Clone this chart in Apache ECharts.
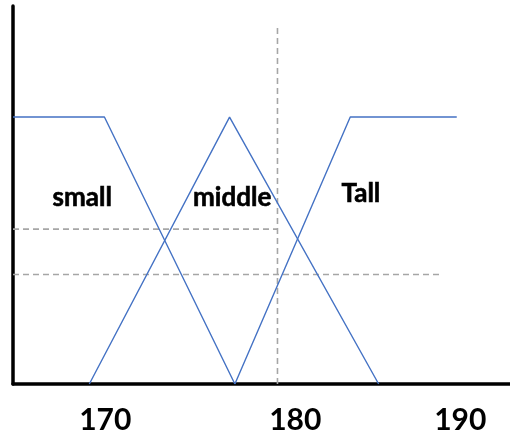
<!DOCTYPE html>
<html>
<head>
<meta charset="utf-8">
<script src="https://cdn.jsdelivr.net/npm/echarts@6/dist/echarts.min.js"></script>
<style>html,body{margin:0;padding:0;background:#fff;}#c{width:510px;height:437px;}</style>
</head>
<body>
<div id="c"></div>
<script>
// Membership functions (x = height in cm, y = membership degree)
var smallX = [164.8, 169.95, 177.3];
var smallY = [1, 1, 0];
var middleX = [169.1, 177.0, 185.4];
var middleY = [0, 1, 0];
var tallX = [177.3, 183.8, 189.8];
var tallY = [0, 1, 1];
// Dashed guide lines
var guideVX = [179.7, 179.7];
var guideVY = [0, 1.345];
var guideH1X = [164.8, 179.7];
var guideH1Y = [0.58, 0.58];
var guideH2X = [164.8, 189.0];
var guideH2Y = [0.41, 0.41];
// Tick labels
var tickValues = [170, 180, 190];
// Annotation labels
var labelNames = ['small', 'middle', 'Tall'];
var labelX = [168.7, 177.15, 184.4];
var labelY = [0.70, 0.70, 0.715];

function pts(xs, ys) { return xs.map(function (x, i) { return [x, ys[i]]; }); }

var blue = '#4472C4';
var gray = '#A6A6A6';
var dashed = { color: gray, width: 1.6, type: [6, 4] };

var chart = echarts.init(document.getElementById('c'), null, { renderer: 'canvas' });
chart.setOption({
  animation: false,
  grid: { left: 13, right: 0, top: 6, bottom: 53, containLabel: false },
  xAxis: {
    type: 'value', min: 164.8, max: 192.8,
    axisLine: { show: true, onZero: false, lineStyle: { color: '#000', width: 3.5 } },
    axisTick: { show: false },
    splitLine: { show: false },
    axisLabel: {
      customValues: tickValues,
      margin: 21,
      fontFamily: 'Lato', fontWeight: 'bold', fontSize: 30, color: '#000',
      formatter: function (v) { return v === 180 ? '{s|' + v + '}' : '{n|' + v + '}'; },
      rich: {
        n: { fontFamily: 'Lato', fontWeight: 'bold', fontSize: 30, color: '#000' },
        s: { fontFamily: 'Lato', fontWeight: 'bold', fontSize: 30, color: '#000', padding: [0, 0, 0, 25] }
      }
    }
  },
  yAxis: {
    type: 'value', min: 0, max: 1.416,
    axisLine: { show: true, lineStyle: { color: '#000', width: 3.5 } },
    axisTick: { show: false },
    axisLabel: { show: false },
    splitLine: { show: false }
  },
  series: [
    { type: 'line', data: pts(guideVX, guideVY), symbol: 'none', lineStyle: dashed, silent: true },
    { type: 'line', data: pts(guideH1X, guideH1Y), symbol: 'none', lineStyle: dashed, silent: true },
    { type: 'line', data: pts(guideH2X, guideH2Y), symbol: 'none', lineStyle: dashed, silent: true },
    { name: 'small', type: 'line', data: pts(smallX, smallY), symbol: 'none', lineStyle: { color: blue, width: 1.4 } },
    { name: 'middle', type: 'line', data: pts(middleX, middleY), symbol: 'none', lineStyle: { color: blue, width: 1.4 } },
    { name: 'Tall', type: 'line', data: pts(tallX, tallY), symbol: 'none', lineStyle: { color: blue, width: 1.4 } },
    {
      type: 'scatter', symbolSize: 0, silent: true,
      data: labelNames.map(function (n, i) { return { name: n, value: [labelX[i], labelY[i]] }; }),
      label: {
        show: true, position: 'inside', formatter: '{b}', opacity: 1,
        fontFamily: 'Lato', fontWeight: 'bold', fontSize: 26, color: '#000',
        textBorderColor: '#000', textBorderWidth: 0.6
      }
    }
  ]
});
</script>
</body>
</html>
